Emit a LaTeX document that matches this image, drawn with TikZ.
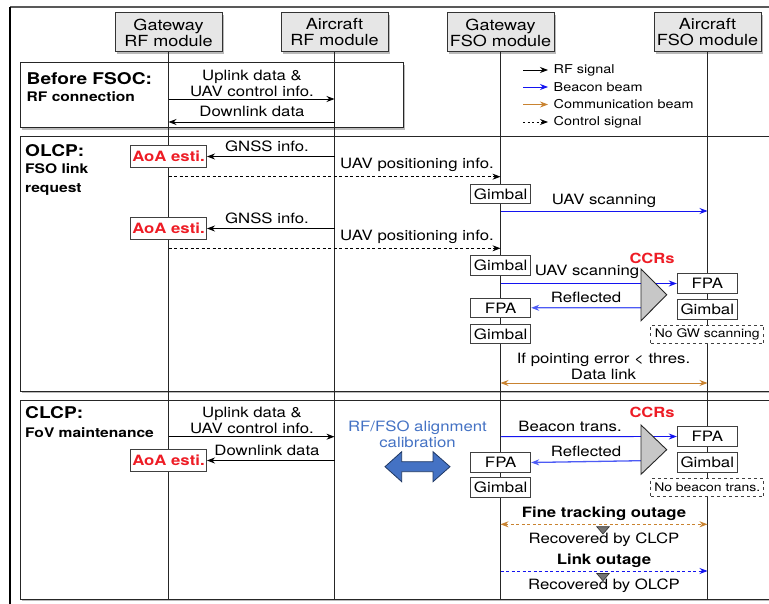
\documentclass[tikz,border=0pt]{standalone}
\usepackage{fontspec}
\setmainfont{TeX Gyre Heros}[FakeStretch=1.18]
\usetikzlibrary{arrows.meta,shadows}
\definecolor{bbeam}{HTML}{1414F0}
\definecolor{rbeam}{HTML}{4D5BF5}
\definecolor{cbeam}{HTML}{C98330}
\definecolor{aoared}{HTML}{EE1C25}
\definecolor{calib}{HTML}{4472C4}
\definecolor{calibdk}{HTML}{1F3864}
\definecolor{hdrfill}{HTML}{E6E6E6}
\newcommand\fsz[2]{\fontsize{#1}{#2}\selectfont}
\tikzset{
  tip/.tip={Stealth[length=8pt,width=6pt]},
  shad/.style={drop shadow={shadow xshift=1.6pt,shadow yshift=-1.6pt,fill=black!45,opacity=0.6}},
  hdr/.style={draw=black!80,line width=1pt,fill=hdrfill,shad,align=center,inner sep=0pt,
    minimum width=107pt,minimum height=39pt,font=\fsz{15.3}{16}},
  sbox/.style={draw=black!75,line width=1pt,fill=white,inner sep=0pt,
    minimum width=60pt,minimum height=19.5pt,font=\fsz{14.3}{15}},
  aoa/.style={draw=black!75,line width=1pt,fill=white,inner sep=0pt,
    minimum width=76pt,minimum height=22pt,font=\bfseries\fsz{14.2}{15},text=aoared},
  note/.style={draw=black!75,dashed,line width=0.8pt,fill=white,inner sep=0pt,
    minimum width=113pt,minimum height=18pt,font=\fsz{11.8}{13}},
  lbl/.style={inner sep=0pt,font=\fsz{14.2}{16},align=center},
  title/.style={inner sep=0pt,anchor=west,font=\bfseries\fsz{16.2}{18}},
  subt/.style={inner sep=0pt,anchor=west,font=\bfseries\fsz{13.2}{19.5},align=left},
  leg/.style={inner sep=0pt,anchor=west,font=\fsz{12.2}{13}},
  life/.style={line width=1.35pt,black!85},
  rf/.style={line width=0.9pt,-tip},
  ctrl/.style={line width=0.9pt,dash pattern=on 3pt off 2.5pt,-tip},
  beam/.style={line width=0.9pt,bbeam,-tip},
  refl/.style={line width=1.3pt,rbeam,-tip},
  comm/.style={line width=1pt,cbeam,tip-tip},
  secbox/.style={draw=black!85,line width=1pt,fill=white,shad},
  ccr/.style={draw=black!85,line width=0.9pt,fill=black!22}
}
\begin{document}
\begin{tikzpicture}[x=1pt,y=-1pt]
\useasboundingbox (0,0) rectangle (769,604);
\clip (0,0) rectangle (769,604);
% outer frame
\draw[line width=1.8pt,black!65] (10,7.3) -- (790,7.3);
\draw[line width=1.1pt,black] (10,7.3) -- (10,620);
% section boxes
\path[secbox] (20.5,63) rectangle (403,128);
\path[secbox] (20.5,137) rectangle (790,391);
\path[secbox] (20.5,400) rectangle (790,599);
% headers
\node[hdr] (gwrf) at (168.5,32.5) {Gateway\\RF module};
\node[hdr] (acrf) at (334.5,32.5) {Aircraft\\RF module};
\node[hdr] (gwfso) at (500.5,32.5) {Gateway\\FSO module};
\node[hdr] (acfso) at (707.5,32.5) {Aircraft\\FSO module};
\coordinate (gwrfE) at (168.5,599);
\coordinate (acrfE) at (334.5,599);
\coordinate (gwfsoE) at (500.5,599);
\coordinate (acfsoE) at (707.5,599);
\draw[life] (gwrf.south) -- (gwrfE);
\draw[life] (acrf.south) -- (acrfE);
\draw[life] (gwfso.south) -- (gwfsoE);
\draw[life] (acfso.south) -- (acfsoE);
% legend
\coordinate (lg1) at (523,70); \coordinate (lg1e) at (548,70);
\coordinate (lg2) at (523,87); \coordinate (lg2e) at (548,87);
\coordinate (lg3) at (523,104.5); \coordinate (lg3e) at (548,104.5);
\coordinate (lg4) at (523,122); \coordinate (lg4e) at (548,122);
\draw[line width=0.8pt,-tip] (lg1) -- (lg1e);
\draw[line width=0.8pt,bbeam,-tip] (lg2) -- (lg2e);
\draw[line width=0.8pt,cbeam,-tip] (lg3) -- (lg3e);
\draw[line width=0.8pt,dash pattern=on 2pt off 2.5pt,-tip] (lg4) -- (lg4e);
\node[leg] (lt1) at (553.5,70) {RF signal};
\node[leg] (lt2) at (553.5,87) {Beacon beam};
\node[leg] (lt3) at (553.5,104.5) {Communication beam};
\node[leg] (lt4) at (553.5,122) {Control signal};
% ---------- Before FSOC
\node[title] (t1) at (26.5,78.5) {Before FSOC:};
\node[subt] (s1) at (26.5,97) {RF connection};
\node[lbl] (up1) at (252,83) {Uplink data \&\\UAV control info.};
\draw[rf] (gwrf |- 0,99) -- (acrf |- 0,99);
\node[lbl] (dn1) at (252,111.5) {Downlink data};
\draw[rf] (acrf |- 0,122) -- (gwrf |- 0,122);
% ---------- OLCP
\node[title] (t2) at (25,150.5) {OLCP:};
\node[subt] (s2) at (25,179.5) {FSO link\\request};
\node[aoa] (aoa1) at (168.5,156.5) {AoA esti.};
\node[lbl] (gn1) at (267,146) {GNSS info.};
\draw[rf] (acrf |- aoa1) -- (aoa1.east);
\node[lbl] (pos1) at (417,165) {UAV positioning info.};
\draw[ctrl] (gwrf |- 0,176.7) -- (gwfso |- 0,176.7);
\node[sbox] (gim1) at (500.7,194) {Gimbal};
\node[lbl] (sc1) at (604,201) {UAV scanning};
\draw[beam] (gwfso |- 0,211) -- (acfso |- 0,211);
\node[aoa] (aoa2) at (168.5,228.5) {AoA esti.};
\node[lbl] (gn2) at (267,218) {GNSS info.};
\draw[rf] (acrf |- aoa2) -- (aoa2.east);
\node[lbl] (pos2) at (417,237) {UAV positioning info.};
\draw[ctrl] (gwrf |- 0,248.3) -- (gwfso |- 0,248.3);
\node[sbox] (gim2) at (500.7,265.7) {Gimbal};
\node[sbox] (afpa1) at (707.3,283.5) {FPA};
\node[sbox] (agim1) at (707.3,309.5) {Gimbal};
\node[note] (nogw) at (707.3,334.5) {No GW scanning};
\node[lbl] (sc2) at (587,272) {UAV scanning};
\draw[beam] (gwfso |- 0,283.5) -- (afpa1.west);
\node[sbox] (gfpa1) at (500.7,307.8) {FPA};
\node[sbox] (ggim1) at (500.7,334.2) {Gimbal};
\coordinate (ccr1a) at (641,269);
\coordinate (ccr1b) at (666.7,294.8);
\coordinate (ccr1c) at (641,320.7);
\coordinate (rf1s) at (641,307.7);
\node[lbl] (rl1) at (586,297) {Reflected};
\draw[refl] (rf1s) -- (gfpa1.east);
\draw[ccr] (ccr1a) -- (ccr1b) -- (ccr1c) -- cycle;
\node[lbl,font=\bfseries\fsz{14}{15},text=aoared] (ccrt1) at (652,258) {CCRs};
\node[lbl] (pe) at (603.5,366.5) {If pointing error < thres.\\Data link};
\draw[comm] (gwfso |- 0,383) -- (acfso |- 0,383);
% ---------- CLCP
\node[title] (t3) at (25,413) {CLCP:};
\node[subt] (s3) at (25,433) {FoV maintenance};
\node[lbl] (up2) at (252,420) {Uplink data \&\\UAV control info.};
\draw[rf] (gwrf |- 0,436.7) -- (acrf |- 0,436.7);
\node[aoa] (aoa3) at (168.5,460.5) {AoA esti.};
\node[lbl] (dn2) at (267,450) {Downlink data};
\draw[rf] (acrf |- aoa3) -- (aoa3.east);
\node[lbl,text=calib] (cal) at (417.5,434) {RF/FSO alignment\\calibration};
\draw[fill=calib,draw=calibdk,line width=0.8pt] (385,466.7) -- (401.7,451.7) -- (401.7,461.7) -- (433,461.7) -- (433,451.7) -- (450,466.7) -- (433,481.7) -- (433,471.7) -- (401.7,471.7) -- (401.7,481.7) -- cycle;
\node[sbox] (afpa2) at (707.3,436.5) {FPA};
\node[sbox] (agim2) at (707.3,462.3) {Gimbal};
\node[note] (nobt) at (707.3,487.5) {No beacon trans.};
\node[lbl] (bt) at (570,426) {Beacon trans.};
\draw[beam] (gwfso |- 0,436.7) -- (afpa2.west);
\node[sbox] (gfpa2) at (500.7,462.5) {FPA};
\node[sbox] (ggim2) at (500.7,487.3) {Gimbal};
\coordinate (ccr2a) at (641,425);
\coordinate (ccr2b) at (666.7,449.7);
\coordinate (ccr2c) at (641,474.3);
\coordinate (rf2s) at (641,460.7);
\node[lbl] (rl2) at (586,451) {Reflected};
\draw[refl] (rf2s) -- (gfpa2.east);
\draw[ccr] (ccr2a) -- (ccr2b) -- (ccr2c) -- cycle;
\node[lbl,font=\bfseries\fsz{14}{15},text=aoared] (ccrt2) at (652,412.5) {CCRs};
\node[lbl,font=\bfseries\fsz{14.2}{15}] (fto) at (604,513.5) {Fine tracking outage};
\draw[comm,dash pattern=on 3pt off 2.5pt] (gwfso |- 0,524.3) -- (acfso |- 0,524.3);
\node[lbl] (rc1) at (604,539.5) {Recovered by CLCP};
\draw[fill=black!55,draw=black!80,line width=0.6pt] (596.7,526.7) -- (609.3,526.7) -- (603,534) -- cycle;
\node[lbl,font=\bfseries\fsz{14.2}{15}] (lo) at (604,560.5) {Link outage};
\draw[beam,dash pattern=on 3pt off 2.5pt] (gwfso |- 0,571) -- (acfso |- 0,571);
\node[lbl] (rc2) at (604,586) {Recovered by OLCP};
\draw[fill=black!55,draw=black!80,line width=0.6pt] (596.7,573.5) -- (609.3,573.5) -- (603,580.8) -- cycle;
\end{tikzpicture}
\end{document}
